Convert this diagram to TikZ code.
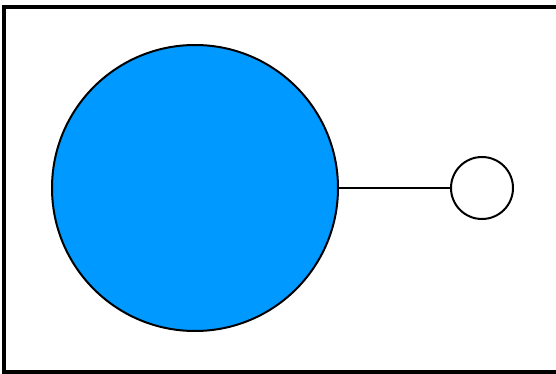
\documentclass[tikz,border=0pt]{standalone}
\definecolor{ballblue}{RGB}{0,153,255}
\tikzset{frameline/.style={line width=4pt,black},
 ring/.style={circle,draw=black,line width=2pt,inner sep=0pt}}
\begin{document}
\begin{tikzpicture}[x=1pt,y=-1pt]
\useasboundingbox (0,0) rectangle (556,374);
\fill[white] (0,0) rectangle (556,374);
\draw[frameline] (556,7) -- (4,7) -- (4,372) -- (556,372);
\node[ring,fill=ballblue,minimum size=286pt] (big) at (195,188) {};
\node[ring,fill=white,minimum size=62pt] (small) at (482,188) {};
\draw[line width=1.5pt] (big.east) -- (small.west);
\end{tikzpicture}
\end{document}
